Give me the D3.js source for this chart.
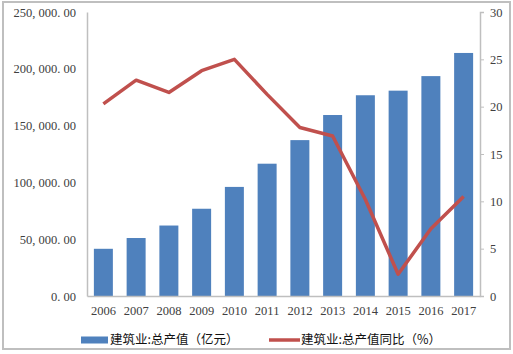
<!DOCTYPE html>
<html lang="zh">
<head>
    <meta charset="UTF-8">
    <title>建筑业总产值</title>
    <script type="text/javascript" src="https://cdn.jsdelivr.net/npm/d3@7"></script>
    <style>
        body { margin: 0; background: #fff; }
        text { font-family: "Liberation Serif", "Noto Sans CJK SC", serif; fill: #404040; }
        .cn { font-family: "Noto Sans CJK SC", sans-serif; fill: #111; }
    </style>
</head>
<body>
    <script type="text/javascript">
        var years = ["2006", "2007", "2008", "2009", "2010", "2011", "2012", "2013", "2014", "2015", "2016", "2017"];
        var output = [41557, 51044, 62037, 76808, 96031, 116463, 137218, 159313, 176713, 180757, 193567, 213944];
        var growth = [20.3, 22.8, 21.5, 23.8, 25.0, 21.3, 17.8, 16.9, 10.2, 2.3, 7.1, 10.5];
        var leftTicks = [0, 50000, 100000, 150000, 200000, 250000];
        var rightTicks = [0, 5, 10, 15, 20, 25, 30];
        var seriesNames = ["建筑业:总产值（亿元）", "建筑业:总产值同比（%）"];

        var w = 513, h = 354;
        // plot area edges (don't call it "top", that's window.top)
        var pL = 87, pR = 480, pT = 12, pB = 296;

        var svg = d3.select("body").append("svg")
            .attr("width", w)
            .attr("height", h);

        // outer frame
        svg.append("rect")
            .attr("x", 3).attr("y", 2)
            .attr("width", 507).attr("height", 347)
            .attr("fill", "none")
            .attr("stroke", "#bfbfbf")
            .attr("stroke-width", 2);

        var x = d3.scaleBand()
            .domain(years)
            .range([pL, pR])
            .paddingInner(0.42)
            .paddingOuter(0.21);

        var yL = d3.scaleLinear().domain([0, 250000]).range([pB, pT]);
        var yR = d3.scaleLinear().domain([0, 30]).range([pB, pT]);

        // bars
        svg.selectAll("rect.bar")
            .data(output)
            .enter()
            .append("rect")
            .attr("class", "bar")
            .attr("x", function(d, i) { return x(years[i]); })
            .attr("y", function(d) { return yL(d); })
            .attr("width", x.bandwidth())
            .attr("height", function(d) { return pB - yL(d); })
            .attr("fill", "#4f81bd");

        // left axis
        var fmt = d3.format(",.2f");
        var gL = svg.append("g")
            .attr("transform", "translate(" + pL + ",0)")
            .call(d3.axisLeft(yL).tickValues(leftTicks).tickSize(0).tickPadding(11)
                .tickFormat(function(d) { return fmt(d).replace(/,/g, ", ").replace(".", ". "); }));
        gL.select(".domain").attr("stroke", "#bfbfbf").attr("stroke-width", 1.5);
        gL.selectAll("text")
            .style("font-family", "'Liberation Serif', serif")
            .style("font-size", "12.5px")
            .attr("fill", "#404040");

        // right axis
        var gR = svg.append("g")
            .attr("transform", "translate(" + pR + ",0)")
            .call(d3.axisRight(yR).tickValues(rightTicks).tickSize(4).tickPadding(6));
        gR.select(".domain").attr("stroke", "#bfbfbf").attr("stroke-width", 1.5);
        gR.selectAll(".tick line").attr("stroke", "#bfbfbf");
        gR.selectAll("text")
            .style("font-family", "'Liberation Serif', serif")
            .style("font-size", "12.5px")
            .attr("fill", "#404040");

        // bottom axis
        var gB = svg.append("g")
            .attr("transform", "translate(0," + pB + ")")
            .call(d3.axisBottom(x).tickSize(0).tickPadding(10));
        gB.select(".domain").attr("stroke", "#bfbfbf").attr("stroke-width", 1.5);
        gB.selectAll("text")
            .style("font-family", "'Liberation Serif', serif")
            .style("font-size", "12.5px")
            .attr("fill", "#404040");

        // growth line
        var line = d3.line()
            .x(function(d, i) { return x(years[i]) + x.bandwidth() / 2; })
            .y(function(d) { return yR(d); });

        svg.append("path")
            .datum(growth)
            .attr("d", line)
            .attr("fill", "none")
            .attr("stroke", "#c0504d")
            .attr("stroke-width", 3.5)
            .attr("stroke-linejoin", "round");

        // legend
        var ly = 340;
        svg.append("rect")
            .attr("x", 81).attr("y", ly - 3.5)
            .attr("width", 27).attr("height", 7)
            .attr("fill", "#4f81bd");
        svg.append("text")
            .attr("class", "cn")
            .attr("x", 110).attr("y", ly)
            .attr("dy", "0.35em")
            .style("font-size", "12.5px")
            .text(seriesNames[0]);

        svg.append("line")
            .attr("x1", 269).attr("x2", 300)
            .attr("y1", ly).attr("y2", ly)
            .attr("stroke", "#c0504d")
            .attr("stroke-width", 3.5);
        svg.append("text")
            .attr("class", "cn")
            .attr("x", 301).attr("y", ly)
            .attr("dy", "0.35em")
            .style("font-size", "12.5px")
            .text(seriesNames[1]);
    </script>
</body>
</html>
